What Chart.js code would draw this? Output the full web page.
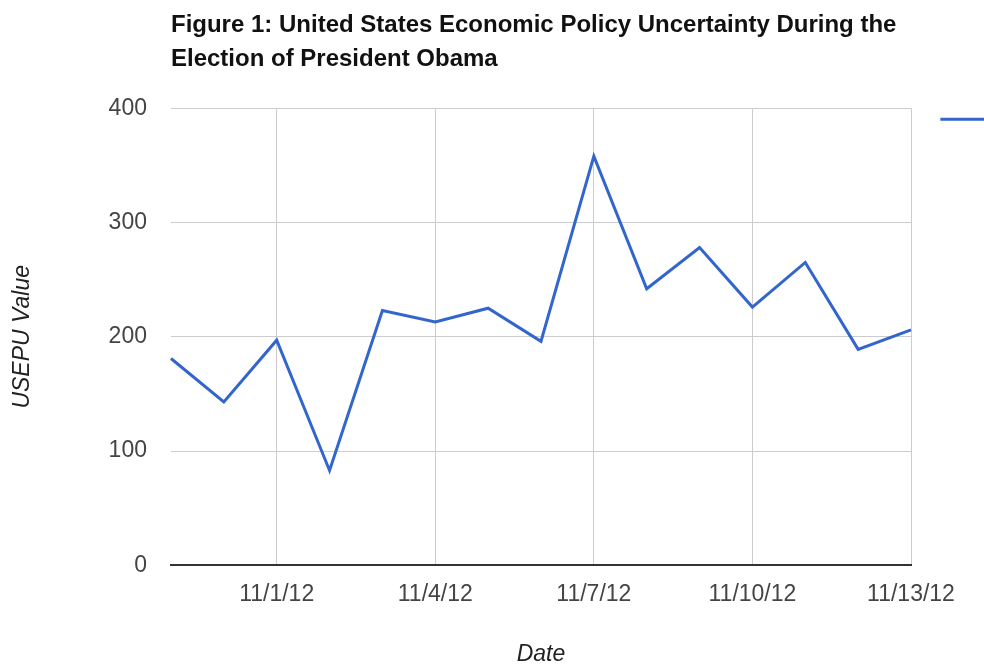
<!DOCTYPE html>
<html>
<head>
<meta charset="utf-8">
<script src="https://cdn.jsdelivr.net/npm/chart.js@4.4.1/dist/chart.umd.min.js"></script>
<style>
  html, body { margin: 0; padding: 0; background: #fff; overflow: hidden; }
  #wrap { width: 984px; height: 665px; overflow: hidden; }
</style>
</head>
<body>
<div id="wrap"><canvas id="grafico" width="1000" height="665"></canvas></div>
<script>
// datas e valores
const datas = ["10/30/12", "10/31/12", "11/1/12", "11/2/12", "11/3/12", "11/4/12", "11/5/12",
  "11/6/12", "11/7/12", "11/8/12", "11/9/12", "11/10/12", "11/11/12", "11/12/12", "11/13/12"];
const valoresUsepu = [181, 143, 197, 83, 223, 213, 225, 196, 358, 242, 278, 226, 265, 189, 206];
const ticksY = [0, 100, 200, 300, 400];

const azul = "#3366cc";
const fonte = "Arial, 'Liberation Sans', sans-serif";

new Chart(document.getElementById("grafico"), {
  type: "line",
  data: {
    labels: datas,
    datasets: [{
      label: "    ", // o texto da legenda fica cortado na imagem original
      data: valoresUsepu,
      borderColor: azul,
      backgroundColor: azul,
      borderWidth: 3,
      pointRadius: 0,
      tension: 0
    }]
  },
  options: {
    responsive: false,
    animation: false,
    layout: { padding: 0 },
    plugins: {
      title: {
        display: true,
        fullSize: false,
        align: "start",
        text: ["Figure 1: United States Economic Policy Uncertainty During the", "Election of President Obama"],
        color: "#111",
        font: { family: fonte, size: 24, weight: "bold", lineHeight: 1.42 },
        padding: { top: 8, bottom: 32 }
      },
      legend: {
        position: "right",
        align: "start",
        fullSize: false,
        rtl: true,
        labels: {
          usePointStyle: true,
          pointStyle: "line",
          pointStyleWidth: 48,
          padding: 5,
          font: { family: fonte, size: 12 }
        }
      },
      tooltip: { enabled: false }
    },
    scales: {
      x: {
        offset: false,
        afterFit: (eixo) => { eixo.paddingRight = 89; },
        grid: { color: "#cccccc", lineWidth: 1, drawTicks: false },
        border: { color: "#333333", width: 2 },
        ticks: {
          autoSkip: false,
          maxRotation: 0,
          padding: 15,
          color: "#444444",
          font: { family: fonte, size: 23 },
          callback: (v, i) => (i % 3 === 2 ? datas[i] : null)
        },
        title: {
          display: true,
          text: "Date",
          color: "#222",
          font: { family: fonte, size: 23, style: "italic", lineHeight: 0.87 },
          padding: { top: 22, bottom: 0 }
        }
      },
      y: {
        min: 0,
        max: 400,
        afterBuildTicks: (eixo) => { eixo.ticks = ticksY.map(v => ({ value: v })); },
        grid: { color: "#cccccc", lineWidth: 1, drawTicks: false },
        border: { display: false },
        ticks: {
          padding: 24,
          color: "#444444",
          font: { family: fonte, size: 23 }
        },
        title: {
          display: true,
          text: "USEPU Value",
          color: "#222",
          font: { family: fonte, size: 23, style: "italic" },
          padding: { top: 9, bottom: 48 }
        }
      }
    }
  }
});
</script>
</body>
</html>
